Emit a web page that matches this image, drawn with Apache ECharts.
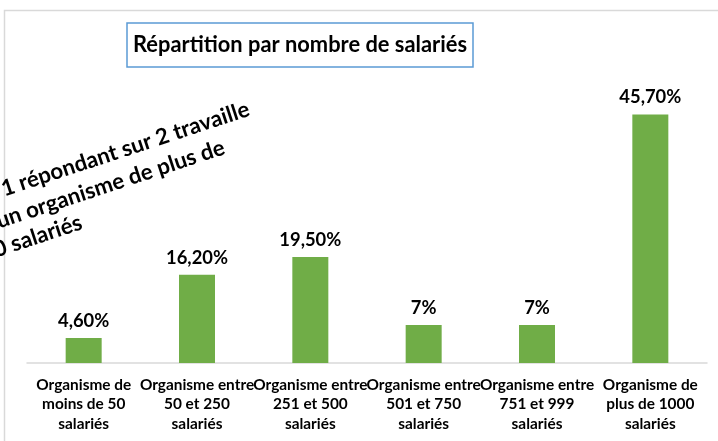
<!DOCTYPE html>
<html><head><meta charset="utf-8">
<script src="https://cdn.jsdelivr.net/npm/echarts@6/dist/echarts.min.js"></script>
<style>html,body{margin:0;padding:0;background:#fff;overflow:hidden}#c{width:718px;height:441px}</style>
</head><body><div id="c"></div>
<script>
const categories = [
  'Organisme de\nmoins de 50\nsalariés',
  'Organisme entre\n50 et 250\nsalariés',
  'Organisme entre\n251 et 500\nsalariés',
  'Organisme entre\n501 et 750\nsalariés',
  'Organisme entre\n751 et 999\nsalariés',
  'Organisme de\nplus de 1000\nsalariés'
];
const values = [4.6, 16.2, 19.5, 7, 7, 45.7];
const valueLabels = ['4,60%', '16,20%', '19,50%', '7%', '7%', '45,70%'];
const titleText = 'Répartition par nombre de salariés';
const noteLines = ['1 répondant sur 2 travaille', 'un organisme de plus de', '0 salariés'];

const FAMILY = 'Lato, "Open Sans", sans-serif';
const TITLE_FAMILY = '"Liberation Sans Narrow", Lato, sans-serif';
function fitSize(text, width, family) {
  const ctx = document.createElement('canvas').getContext('2d');
  ctx.font = 'bold 100px ' + (family || FAMILY);
  return 100 * width / ctx.measureText(text).width;
}
const titleSize = Math.min(25, fitSize(titleText, 334, TITLE_FAMILY));
const noteSize = fitSize(noteLines[0], 260);
const catSize = fitSize('Organisme de', 95);
const valSize = fitSize('16,20%', 62);

const theta = 0.318;
function notePos(bx, by) {
  const off = 0.3 * noteSize;
  return [bx - off * Math.sin(theta), by - off * Math.cos(theta)];
}
const noteBase = [[4, 196], [-1, 228], [-4, 257]];
const noteElems = noteLines.map((t, i) => {
  const p = notePos(noteBase[i][0], noteBase[i][1]);
  return {
    type: 'text', x: p[0], y: p[1], rotation: theta, z: 10,
    style: { text: t, font: 'bold ' + noteSize.toFixed(1) + 'px ' + FAMILY, fill: '#000',
      textAlign: 'left', textVerticalAlign: 'middle', align: 'left', verticalAlign: 'middle' }
  };
});

const chart = echarts.init(document.getElementById('c'), null, { renderer: 'canvas' });
const lh = Math.round(titleSize * 1.2);
chart.setOption({
  animation: false,
  backgroundColor: '#fff',
  title: {
    text: titleText,
    left: 127, top: 23,
    padding: [Math.max(0, (44 - lh) / 2), 6],
    borderColor: '#5b9bd5', borderWidth: 1.5,
    textStyle: { fontFamily: TITLE_FAMILY, fontWeight: 'bold', fontSize: titleSize, color: '#000', lineHeight: lh }
  },
  grid: { left: 27, right: 11, top: 91, bottom: 78 },
  xAxis: {
    type: 'category', data: categories,
    axisLine: { lineStyle: { color: '#d9d9d9', width: 1.5 } },
    axisTick: { show: false },
    axisLabel: { interval: 0, margin: 12, color: '#000', fontFamily: FAMILY, fontWeight: 'bold',
      fontSize: catSize, lineHeight: 19.5 }
  },
  yAxis: { type: 'value', min: 0, max: 50, show: false, splitLine: { show: false } },
  series: [{
    type: 'bar', data: values, barWidth: 36,
    itemStyle: { color: '#70ad47' },
    label: { show: true, position: 'top', distance: 8, color: '#000', fontFamily: FAMILY,
      fontWeight: 'bold', fontSize: valSize,
      formatter: p => valueLabels[p.dataIndex] }
  }],
  graphic: [
    { type: 'rect', shape: { x: 4.5, y: 10.5, width: 800, height: 500 }, silent: true, z: -1,
      style: { fill: 'none', stroke: '#d9d9d9', lineWidth: 1.5 } }
  ].concat(noteElems)
});
</script>
</body></html>
